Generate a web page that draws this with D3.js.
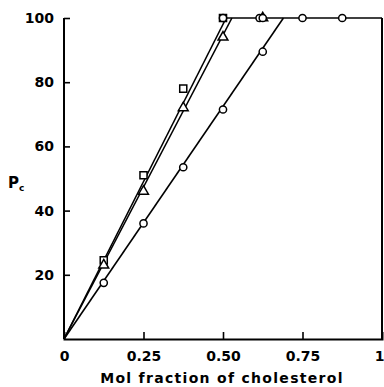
<!DOCTYPE html>
<html>
<head>
<meta charset="utf-8">
<script src="https://cdn.jsdelivr.net/npm/d3@7"></script>
<style>
  html, body { margin: 0; padding: 0; background: #fff; }
  svg { display: block; }
  text { font-family: "DejaVu Sans", sans-serif; font-weight: bold; fill: #000; }
</style>
</head>
<body>
<svg id="chart" width="384" height="387"></svg>
<script>
// ---- data ----
const xTicks = [0, 0.25, 0.5, 0.75, 1];
const xTickLabels = ["0", "0.25", "0.50", "0.75", "1"];
const yTicks = [20, 40, 60, 80, 100];
const yTickLabels = ["20", "40", "60", "80", "100"];

const squareX = [0.125, 0.25, 0.375, 0.5];
const squareY = [24.5, 51, 78, 100];

const triangleX = [0.125, 0.25, 0.375, 0.5, 0.625];
const triangleY = [23, 46, 72, 94, 100];

const circleX = [0.125, 0.25, 0.375, 0.5, 0.5, 0.615, 0.625, 0.625, 0.75, 0.875];
const circleY = [17.5, 36, 53.5, 71.5, 100, 100, 89.5, 100, 100, 100];

const squareLineX = [0, 0.51];
const squareLineY = [0, 100];
const triangleLineX = [0, 0.528];
const triangleLineY = [0, 100];
const circleLineX = [0, 0.69];
const circleLineY = [0, 100];
const plateauX = [0.5, 1];
const plateauY = [100, 100];

// ---- layout ----
const svg = d3.select("#chart");
const x = d3.scaleLinear().domain([0, 1]).range([64, 382]);
const y = d3.scaleLinear().domain([0, 100]).range([339, 18]);

const zip = (a, b) => a.map((v, i) => [v, b[i]]);

// axes
const xAxis = d3.axisBottom(x).tickValues(xTicks).tickSize(-7).tickPadding(12)
  .tickFormat((d, i) => xTickLabels[i]);
const gx = svg.append("g").attr("transform", `translate(0,${y(0)})`).call(xAxis);
gx.select(".domain").attr("stroke", "#000").attr("stroke-width", 2);
gx.selectAll(".tick line").attr("stroke", "#000").attr("stroke-width", 1.6);
gx.selectAll(".tick text").style("font-size", "14px").attr("dy", "0.71em");
gx.selectAll(".tick").filter(d => d === 0 || d === 1).select("line").remove();
gx.selectAll(".tick").filter(d => d === 1).select("text").attr("text-anchor", "end").attr("x", 2);

const yAxis = d3.axisLeft(y).tickValues(yTicks).tickSize(-6).tickPadding(10)
  .tickFormat((d, i) => yTickLabels[i]);
const gy = svg.append("g").attr("transform", `translate(${x(0)},0)`).call(yAxis);
gy.select(".domain").attr("d", `M0,${y(100)}V${y(0)}`).attr("stroke", "#000").attr("stroke-width", 2).attr("fill", "none");
gy.selectAll(".tick line").attr("stroke", "#000").attr("stroke-width", 1.6);
gy.selectAll(".tick text").style("font-size", "14px");

// right border
svg.append("line")
  .attr("x1", x(1)).attr("x2", x(1)).attr("y1", y(100)).attr("y2", y(0))
  .attr("stroke", "#000").attr("stroke-width", 2);

// lines
const line = d3.line().x(d => x(d[0])).y(d => y(d[1]));
[[squareLineX, squareLineY], [triangleLineX, triangleLineY], [circleLineX, circleLineY], [plateauX, plateauY]]
  .forEach(([xs, ys]) => {
    svg.append("path").datum(zip(xs, ys)).attr("d", line)
      .attr("fill", "none").attr("stroke", "#000").attr("stroke-width", 1.6);
  });

// markers
const mk = { fill: "#fff", stroke: "#000", sw: 1.5 };
svg.append("g").selectAll("path").data(zip(squareX, squareY)).join("path")
  .attr("d", d3.symbol(d3.symbolSquare, 50))
  .attr("transform", d => `translate(${x(d[0])},${y(d[1])})`)
  .attr("fill", mk.fill).attr("stroke", mk.stroke).attr("stroke-width", mk.sw);
svg.append("g").selectAll("path").data(zip(triangleX, triangleY)).join("path")
  .attr("d", d3.symbol(d3.symbolTriangle, 42))
  .attr("transform", d => `translate(${x(d[0])},${y(d[1])})`)
  .attr("fill", mk.fill).attr("stroke", mk.stroke).attr("stroke-width", mk.sw);
svg.append("g").selectAll("circle").data(zip(circleX, circleY)).join("circle")
  .attr("cx", d => x(d[0])).attr("cy", d => y(d[1])).attr("r", 3.6)
  .attr("fill", mk.fill).attr("stroke", mk.stroke).attr("stroke-width", mk.sw);

// axis titles
svg.append("text").attr("x", 222).attr("y", 383).attr("text-anchor", "middle")
  .style("font-size", "14px").style("letter-spacing", "1.3px").text("Mol fraction of cholesterol");
const pc = svg.append("text").attr("x", 8).attr("y", 188).style("font-size", "15px");
pc.append("tspan").text("P");
pc.append("tspan").attr("dy", 3).style("font-size", "9px").text("c");
</script>
</body>
</html>
